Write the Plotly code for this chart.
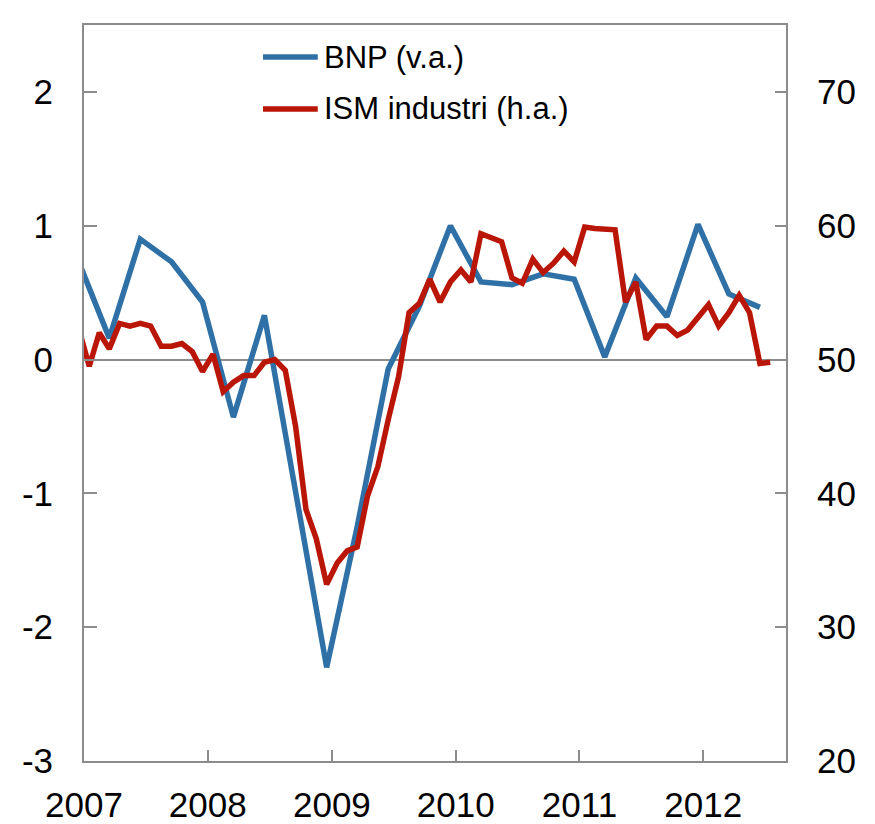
import pandas as pd
import plotly.graph_objects as go

# ---- data ----
bnp_months = ["2006-12",
              "2007-03", "2007-06", "2007-09", "2007-12",
              "2008-03", "2008-06", "2008-09", "2008-12",
              "2009-03", "2009-06", "2009-09", "2009-12",
              "2010-03", "2010-06", "2010-09", "2010-12",
              "2011-03", "2011-06", "2011-09", "2011-12",
              "2012-03", "2012-06"]
bnp_values = [0.73,
              0.16, 0.90, 0.73, 0.43,
              -0.43, 0.33, -1.00, -2.30,
              -1.25, -0.07, 0.40, 1.00,
              0.58, 0.56, 0.64, 0.60,
              0.02, 0.61, 0.32, 1.01,
              0.49, 0.39]

ism_start = "2006-12"
ism_values = [52.3,
              49.5, 52.0, 50.8, 52.7, 52.5, 52.7, 52.5, 51.0, 51.0, 51.2, 50.6, 49.1,
              50.4, 47.6, 48.3, 48.8, 48.8, 49.8, 50.0, 49.2, 45.0, 38.8, 36.6, 33.2,
              34.8, 35.7, 36.0, 39.8, 42.0, 45.5, 48.7, 53.5, 54.2, 56.0, 54.3, 55.8,
              56.7, 55.8, 59.4, 59.1, 58.8, 56.1, 55.7, 57.5, 56.5, 57.2, 58.1, 57.3,
              59.9, 59.8, 59.8, 59.7, 54.3, 55.8, 51.5, 52.5, 52.5, 51.8, 52.2, 53.1,
              54.1, 52.5, 53.5, 54.8, 53.5, 49.7, 49.8]
ism_months = [str(p) for p in pd.period_range(ism_start, periods=len(ism_values), freq="M")]

year_ticks = ["2007", "2008", "2009", "2010", "2011", "2012"]
left_ticks = [-3, -2, -1, 0, 1, 2]
right_ticks = [20, 30, 40, 50, 60, 70]

series_names = ["BNP (v.a.)", "ISM industri (h.a.)"]
BLUE = "#2F71A6"
RED = "#BA1608"
GREY = "#8C8C8C"
FONT = "Liberation Sans, Arial, sans-serif"


def mid_month(m):
    p = pd.Period(m, freq="M")
    return p.start_time + (p.end_time - p.start_time) / 2


bnp_x = [mid_month(m) for m in bnp_months]
ism_x = [mid_month(m) for m in ism_months]

fig = go.Figure()
fig.add_trace(go.Scatter(x=bnp_x, y=bnp_values, mode="lines", name=series_names[0],
                         line=dict(color=BLUE, width=5.5), yaxis="y", showlegend=False))
fig.add_trace(go.Scatter(x=ism_x, y=ism_values, mode="lines", name=series_names[1],
                         line=dict(color=RED, width=5.5), yaxis="y2", showlegend=False))

# manual legend
leg_y = [0.9565, 0.886]
for name, col, yy in zip(series_names, [BLUE, RED], leg_y):
    fig.add_shape(type="line", xref="paper", yref="paper", x0=0.255, x1=0.333, y0=yy, y1=yy,
                  line=dict(color=col, width=5.5))
    fig.add_annotation(xref="paper", yref="paper", x=0.339, y=yy, text=name, showarrow=False,
                       xanchor="left", yanchor="middle", font=dict(size=31, color="black", family=FONT))

fig.update_layout(
    width=875, height=824,
    margin=dict(l=84, r=89, t=25, b=63, autoexpand=False),
    plot_bgcolor="white", paper_bgcolor="white",
    font=dict(family=FONT, size=35, color="black"),
    xaxis=dict(type="date", range=["2007-01-01", "2012-09-01"],
               tickvals=[f"{y}-01-01" for y in year_ticks], ticktext=year_ticks,
               ticks="inside", ticklen=11, tickwidth=2, tickcolor=GREY,
               showline=True, linecolor=GREY, linewidth=2, mirror=True,
               showgrid=False, zeroline=False, ticklabelstandoff=12, automargin=False),
    yaxis=dict(range=[-3, 2.5], tickvals=left_ticks, ticktext=[str(v) for v in left_ticks],
               ticks="inside", ticklen=13, tickwidth=2, tickcolor=GREY,
               showline=True, linecolor=GREY, linewidth=2,
               showgrid=False, zeroline=True, zerolinecolor=GREY, zerolinewidth=2,
               ticklabelstandoff=22, automargin=False),
    yaxis2=dict(range=[20, 75], tickvals=right_ticks, overlaying="y", side="right",
                ticks="inside", ticklen=11, tickwidth=2, tickcolor=GREY,
                showline=True, linecolor=GREY, linewidth=2,
                showgrid=False, zeroline=False, ticklabelstandoff=22, automargin=False),
)

fig.write_html("out.html", config={"displayModeBar": False},
               post_script="document.body.style.margin='0px';")
